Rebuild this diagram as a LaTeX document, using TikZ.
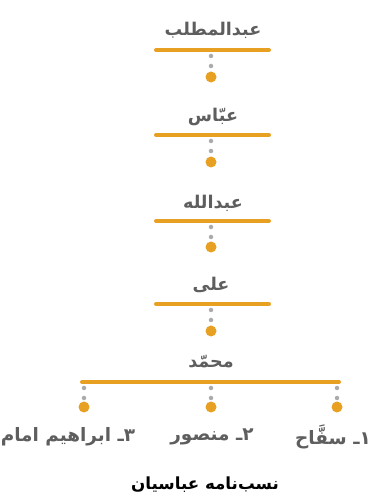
\documentclass[tikz,border=0pt]{standalone}
\usepackage{fontspec}
\usepackage{tkz-euclide}
\newfontfamily\arabicfont[Script=Arabic]{DejaVu Sans}
\TeXXeTstate=1
\definecolor{barorange}{HTML}{E8A023}
\definecolor{namegray}{HTML}{5E5E5E}
\definecolor{dotgray}{HTML}{ABABAB}
\tikzset{
  bar/.style={draw=barorange,line width=0.08cm},
  link/.style={draw=dotgray,line width=0.09cm,line cap=round,dash pattern=on 0pt off 0.2cm},
  dot/.style={circle,fill=barorange,inner sep=0pt,minimum size=0.22cm},
  person/.style={font=\arabicfont\bfseries\fontsize{10}{12}\selectfont,text=namegray,inner sep=0pt},
  son/.style={font=\arabicfont\bfseries\fontsize{10.5}{12}\selectfont,text=namegray,inner sep=0pt},
  treetitle/.style={font=\arabicfont\bfseries\fontsize{9.5}{11}\selectfont,text=black,inner sep=0pt}
}

\begin{document}
\begin{tikzpicture}
                \useasboundingbox (0,0) rectangle (7.42,10.02);
                \tkzDefPoints{3.12/9.02/L1,5.38/9.02/R1,4.22/9.02/B1,
                              3.12/7.32/L2,5.38/7.32/R2,4.22/7.32/B2,
                              3.12/5.60/L3,5.38/5.60/R3,4.22/5.60/B3,
                              3.12/3.94/L4,5.38/3.94/R4,4.22/3.94/B4,
                              1.64/2.38/L5,6.78/2.38/R5,4.22/2.38/B5}
                \tkzDefPoints{1.68/2.38/BL,6.74/2.38/BR}
                \node[person] (T1) at (4.26,9.42) {\beginR عبدالمطلب\endR};
                \node[person] (T2) at (4.26,7.68) {\beginR عبّاس\endR};
                \node[person] (T3) at (4.26,5.96) {\beginR عبدالله\endR};
                \node[person] (T4) at (4.22,4.32) {\beginR علی\endR};
                \node[person] (T5) at (4.22,2.78) {\beginR محمّد\endR};
                \tkzDrawSegments[bar](L1,R1 L2,R2 L3,R3 L4,R4 L5,R5)
                \node[dot] (D1) at (4.22,8.48) {};
                \node[dot] (D2) at (4.22,6.78) {};
                \node[dot] (D3) at (4.22,5.08) {};
                \node[dot] (D4) at (4.22,3.40) {};
                \node[dot] (D5) at (4.22,1.88) {};
                \node[dot] (DL) at (1.68,1.88) {};
                \node[dot] (DR) at (6.74,1.88) {};
                \draw[link] (B1) ++(0,-0.12) -- (D1);
                \draw[link] (B2) ++(0,-0.12) -- (D2);
                \draw[link] (B3) ++(0,-0.12) -- (D3);
                \draw[link] (B4) ++(0,-0.12) -- (D4);
                \draw[link] (B5) ++(0,-0.12) -- (D5);
                \draw[link] (BL) ++(0,-0.12) -- (DL);
                \draw[link] (BR) ++(0,-0.12) -- (DR);
                \node[son] (S1) at (6.66,1.28) {\beginR ۱ـ سفَّاح\endR};
                \node[son] (S2) at (4.24,1.28) {\beginR ۲ـ منصور\endR};
                \node[son] (S3) at (1.36,1.28) {\beginR ۳ـ ابراهیم امام\endR};
                \node[treetitle] (C) at (4.10,0.32) {\beginR نسب‌نامه عباسیان\endR};
            \end{tikzpicture}
\end{document}
